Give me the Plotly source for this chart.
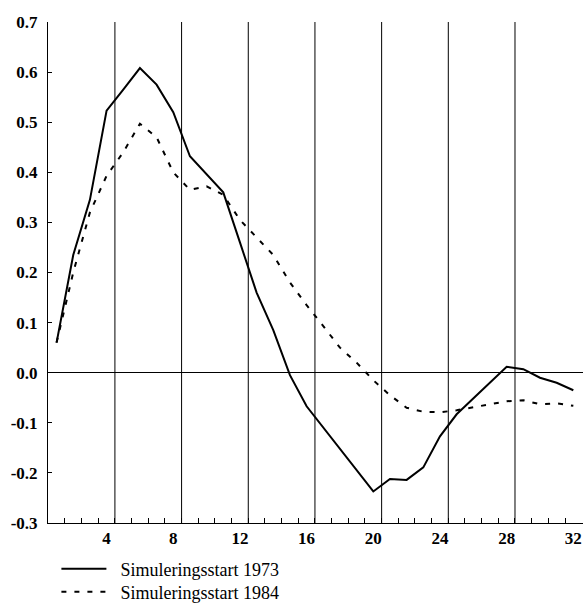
import plotly.graph_objects as go

# Data (quarters 1..32)
quarters = list(range(1, 33))
sim_1973 = [0.06, 0.235, 0.345, 0.523, 0.565, 0.608, 0.575, 0.52, 0.432, 0.395,
            0.36, 0.26, 0.16, 0.085, -0.005, -0.067, -0.109, -0.151, -0.193, -0.237,
            -0.212, -0.214, -0.189, -0.127, -0.083, -0.052, -0.021, 0.012, 0.007, -0.01,
            -0.02, -0.035]
sim_1984 = [0.06, 0.2, 0.32, 0.393, 0.44, 0.497, 0.47, 0.40, 0.365, 0.372,
            0.355, 0.305, 0.27, 0.235, 0.18, 0.135, 0.093, 0.05, 0.02, -0.015,
            -0.045, -0.07, -0.078, -0.079, -0.075, -0.069, -0.063, -0.057, -0.055, -0.063,
            -0.061, -0.066]
series_names = ["Simuleringsstart 1973", "Simuleringsstart 1984"]

x_label_vals = [4, 8, 12, 16, 20, 24, 28, 32]
x_label_text = ["4", "8", "12", "16", "20", "24", "28", "32"]
minor_ticks = [q + 0.5 for q in range(1, 32)]
year_bounds = [4.5, 8.5, 12.5, 16.5, 20.5, 24.5, 28.5]
y_tick_vals = [-0.3, -0.2, -0.1, 0.0, 0.1, 0.2, 0.3, 0.4, 0.5, 0.6, 0.7]
y_tick_text = ["-0.3", "-0.2", "-0.1", "0.0", "0.1", "0.2", "0.3", "0.4", "0.5", "0.6", "0.7"]

x_range = [0.486, 32.58]
serif = "Liberation Serif, Times New Roman, serif"
pad = "\u00a0\u00a0"

fig = go.Figure()
fig.add_trace(go.Scatter(x=quarters, y=sim_1973, mode="lines", name=pad + series_names[0],
                         legend="legend",
                         line=dict(color="black", width=2)))
fig.add_trace(go.Scatter(x=quarters, y=sim_1984, mode="lines", name=pad + series_names[1],
                         legend="legend2",
                         line=dict(color="black", width=2, dash="5px,8px")))
# invisible trace to carry the label axis
fig.add_trace(go.Scatter(x=x_label_vals, y=[None] * len(x_label_vals), xaxis="x2",
                         mode="lines", showlegend=False, hoverinfo="skip"))

for b in year_bounds:
    fig.add_shape(type="line", xref="x", yref="paper", x0=b, x1=b, y0=0, y1=1,
                  line=dict(color="black", width=1), layer="below")

legend_common = dict(xanchor="left", yanchor="middle",
                     font=dict(family=serif, size=18, color="black"),
                     bgcolor="rgba(0,0,0,0)", itemwidth=45)

fig.update_layout(
    width=583, height=608,
    margin=dict(l=48, r=0, t=22, b=85, autoexpand=False),
    paper_bgcolor="white", plot_bgcolor="white",
    font=dict(family=serif, color="black"),
    showlegend=True,
    legend=dict(x=0.0157, y=-0.092, **legend_common),
    legend2=dict(x=0.0157, y=-0.138, **legend_common),
    xaxis=dict(range=x_range, tickmode="array", tickvals=minor_ticks, automargin=False,
               ticks="inside", ticklen=5, tickcolor="black", tickwidth=1,
               showticklabels=False, showline=True, linecolor="black", linewidth=1,
               showgrid=False, zeroline=False),
    xaxis2=dict(range=x_range, overlaying="x", anchor="y", side="bottom", automargin=False,
                tickmode="array", tickvals=x_label_vals, ticktext=x_label_text,
                ticks="", showline=False, showgrid=False, zeroline=False,
                ticklabelstandoff=3,
                tickfont=dict(family=serif, size=17, color="black", weight="bold")),
    yaxis=dict(range=[-0.3, 0.7], tickmode="array", tickvals=y_tick_vals, ticktext=y_tick_text,
               automargin=False,
               ticks="inside", ticklen=4, tickcolor="black",
               showline=True, linecolor="black", linewidth=1,
               showgrid=False, zeroline=True, zerolinecolor="black", zerolinewidth=1,
               ticklabelstandoff=6,
               tickfont=dict(family=serif, size=17, color="black", weight="bold")),
)

fig.write_html("out.html", config={"displayModeBar": False},
               post_script="document.body.style.margin='0';document.body.style.overflow='hidden';")
